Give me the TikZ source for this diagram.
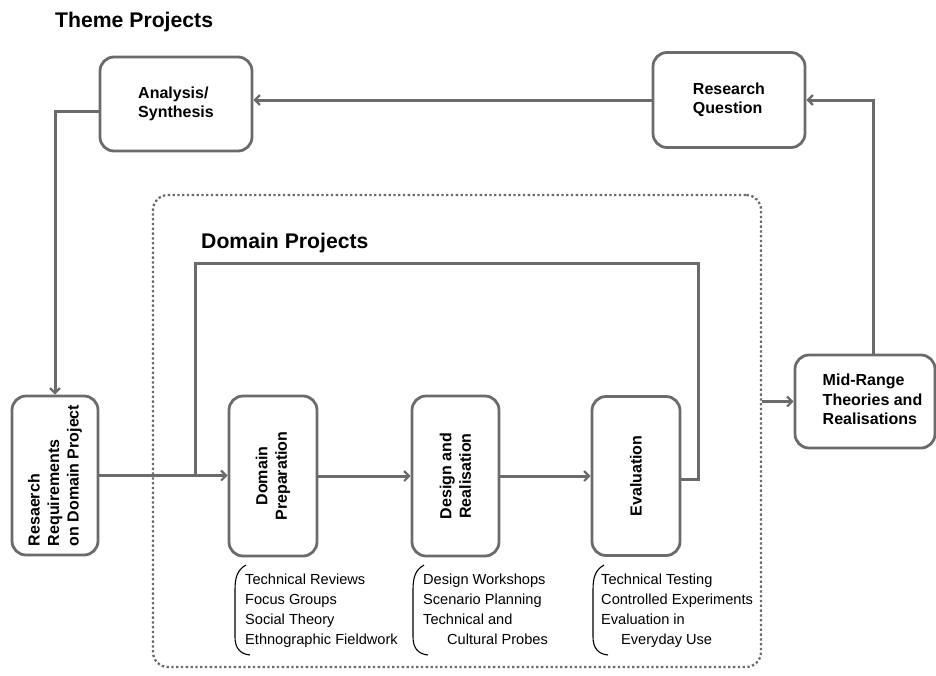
\documentclass[tikz,border=0pt]{standalone}
\usepackage{fontspec}
\setmainfont{Liberation Sans}
\usetikzlibrary{arrows.meta}
\definecolor{ln}{HTML}{6B6B6B}
\begin{document}
\begin{tikzpicture}[x=1pt,y=-1pt,
  box/.style={draw=ln, line width=2.8pt, rounded corners=14pt, fill=white, inner sep=0pt,
    font=\fontsize{16}{19.5}\selectfont\bfseries, align=left},
  vbox/.style={box, rotate=90, align=center},
  conn/.style={draw=ln, line width=3pt},
  arr/.style={conn, -{Straight Barb[length=5pt,width=10pt,line width=2.2pt]}},
  title/.style={font=\fontsize{21.2}{24}\selectfont\bfseries, inner sep=0pt, anchor=base west},
  list/.style={font=\fontsize{14.6}{20}\selectfont, align=left, inner sep=0pt, anchor=north west},
  brk/.style={draw=black, line width=1.1pt}
]
\useasboundingbox (0,0) rectangle (936,675);

% titles
\node[title] (tp) at (55,27) {Theme Projects};

% domain dotted frame
\node[draw=ln, line width=2.3pt, dash pattern=on 2.3pt off 2.5pt, rounded corners=15pt,
      minimum width=608pt, minimum height=472pt, inner sep=0pt] (dom) at (457,431) {};
\node[title] (dpt) at (201,248) {Domain Projects};

% boxes
\node[box, minimum width=152pt, minimum height=94pt] (as) at (176,104) {Analysis/\\Synthesis};
\node[box, minimum width=152pt, minimum height=95pt] (rq) at (729,100) {Research\\Question};
\node[vbox, align=left, minimum width=159pt, minimum height=86pt] (rr) at (55,475.5)
   {Resaerch\\Requirements\\on Domain Project};
\node[vbox, minimum width=160pt, minimum height=88pt] (dp) at (273,476) {Domain\\Preparation};
\node[vbox, minimum width=160pt, minimum height=87pt] (ds) at (455.5,476) {Design and\\Realisation};
\node[vbox, minimum width=159pt, minimum height=88pt] (ev) at (636,476) {Evaluation};
\node[box, minimum width=140pt, minimum height=93pt] (mr) at (865,401.5)
   {\hspace*{15pt}\begin{tabular}{@{}l@{}}Mid-Range\\Theories and\\Realisations\end{tabular}};

% connectors
\coordinate (j) at (195,475);
\coordinate (top) at (698,263);
\draw[arr] (rq.west) -- (rq.west -| as.east);
\draw[arr] ([yshift=-7pt]as.west) -| (rr.east);
\draw[arr] (rr.south) -- (rr.south -| dp.north);
\draw[conn] ([yshift=-3pt]ev.south) -| (top) -| (j);
\draw[arr] (dp.south) -- (dp.south -| ds.north);
\draw[arr] (ds.south) -- (ds.south -| ev.north);
\draw[arr] (mr.west -| dom.east) -- (mr.west);
\draw[arr] ([xshift=8pt]mr.north) |- (rq.east);

% lists with brackets
\draw[brk] (246,565) .. controls (237,570) and (235,578) .. (235,590) -- (235,637)
   .. controls (235,648) and (240,654) .. (250,655);
\node[list] (l1) at (245,574) {Technical Reviews\\Focus Groups\\Social Theory\\Ethnographic Fieldwork};

\draw[brk] (424,565) .. controls (415,570) and (413,578) .. (413,590) -- (413,637)
   .. controls (413,648) and (418,654) .. (428,655);
\node[list] (l2) at (423,574) {Design Workshops\\Scenario Planning\\Technical and\\\hspace*{24pt}Cultural Probes};

\draw[brk] (604,565) .. controls (595,570) and (593,578) .. (593,590) -- (593,637)
   .. controls (593,648) and (598,654) .. (608,655);
\node[list] (l3) at (601,574) {Technical Testing\\Controlled Experiments\\Evaluation in\\\hspace*{20pt}Everyday Use};
\end{tikzpicture}
\end{document}
